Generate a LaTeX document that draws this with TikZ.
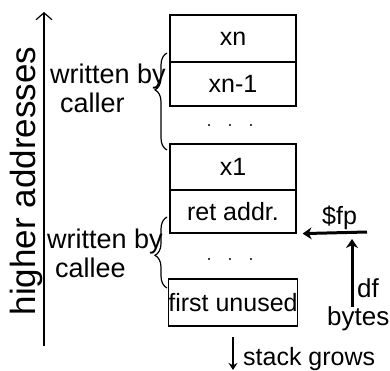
\documentclass[tikz,border=0pt]{standalone}
\usepackage{fontspec}
\setmainfont{Liberation Sans}
\usetikzlibrary{arrows.meta,decorations.pathreplacing}
\tikzstyle{slot}=[draw, line width=1.2pt, minimum width=126pt, inner sep=0pt, font=\fontsize{25}{27}\selectfont]
\tikzstyle{note}=[font=\fontsize{25}{27}\selectfont, inner sep=0pt, anchor=base west]
\tikzstyle{sidenote}=[note, font=\fontsize{27}{29}\selectfont]
\tikzstyle{curly}=[decorate, line width=1.2pt]
\tikzstyle{fatarrow}=[line width=3pt, -{Stealth[length=9pt,width=12pt]}]

\begin{document}
\begin{tikzpicture}[x=1pt, y=-1pt]
\useasboundingbox (0,0) rectangle (390,371);
% Address axis
    \coordinate (axbot) at (44,346);
    \coordinate (axtop) at (44,12);
    \draw[line width=1.2pt, -{Straight Barb[length=7pt,width=16pt]}] (axbot) -- (axtop);
    \node[rotate=90, anchor=base, inner sep=0pt, font=\fontsize{35}{37}\selectfont] (higher) at (35,181) {higher addresses};
% Stack slots
    \node[slot, minimum height=47pt] (xn) at (233,38.5) {xn};
    \node[slot, minimum height=44pt] (xnm) at (233,84) {xn-1};
    \node[slot, minimum height=46pt] (xone) at (233,167) {x1};
    \node[slot, minimum height=43pt] (ret) at (233,211.5) {ret addr.};
    \node[slot, minimum height=47pt] (unused) at (233,302.5) {first unused};
% Gaps
    \foreach \x in {209,230,251} {
        \fill (\x,125) circle (1.1pt);
        \fill (\x,259) circle (1.1pt);
    }
% Who writes what
    \coordinate (callerbot) at (167,150);
    \coordinate (callertop) at (167,53);
    \draw[curly, decoration={brace, amplitude=12pt, aspect=0.62}] (callerbot) -- (callertop);
    \node[sidenote] (wrA) at (50,84) {written by};
    \node[sidenote] (caller) at (60,113) {caller};
    \coordinate (calleebot) at (167,288);
    \coordinate (calleetop) at (167,217);
    \draw[curly, decoration={brace, amplitude=12pt, aspect=0.46}] (calleebot) -- (calleetop);
    \node[sidenote] (wrB) at (47,248) {written by};
    \node[sidenote] (callee) at (55,277) {callee};
% Frame pointer
    \coordinate (fptail) at (367,232);
    \draw[fatarrow] (fptail) -- ([xshift=6pt]ret.south east);
    \node[note] (fp) at (322,224) {\$fp};
    \coordinate (dfbot) at (352,307);
    \coordinate (dftop) at (352,239);
    \draw[fatarrow] (dfbot) -- (dftop);
    \node[note, font=\fontsize{26}{28}\selectfont] (df) at (357,297) {df};
    \node[note, font=\fontsize{26}{28}\selectfont] (bytes) at (327,325) {bytes};
% Growth direction
    \coordinate (growtop) at (233,337);
    \coordinate (growbot) at (233,370);
    \draw[line width=2pt, -{Stealth[length=7pt,width=9pt]}] (growtop) -- (growbot);
    \node[note] (grows) at (243,365) {stack grows};
\end{tikzpicture}
\end{document}
